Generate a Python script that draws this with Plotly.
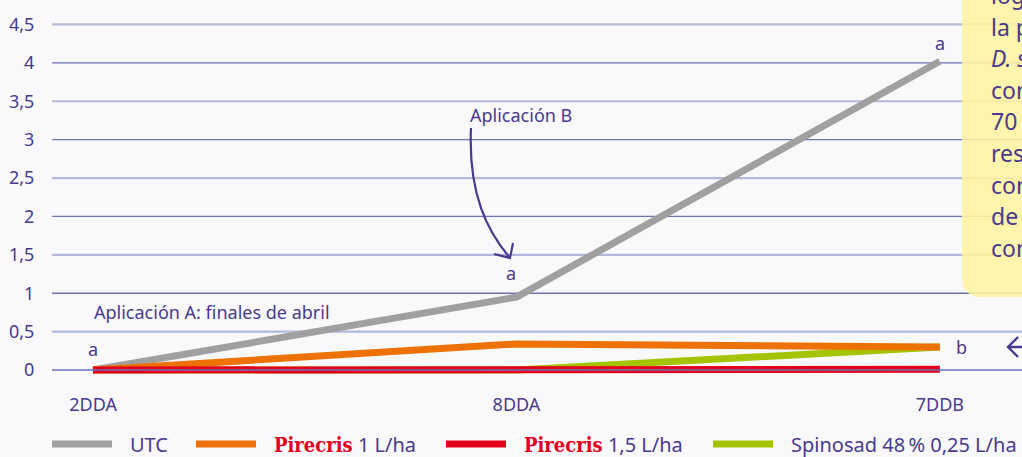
import plotly.graph_objects as go

# ---------------- data ----------------
categories = ["2DDA", "8DDA", "7DDB"]
utc = [0.0, 0.95, 4.02]
pirecris_1 = [0.0, 0.34, 0.30]
pirecris_15 = [0.0, 0.01, 0.01]
spinosad = [0.0, 0.0, 0.30]

y_ticks = [0, 0.5, 1, 1.5, 2, 2.5, 3, 3.5, 4, 4.5]

# ---------------- styles ----------------
W, H = 1022, 457
ML, MR, MT, MB = 52, 0, 16, 72
PURPLE = "#483a8c"
FONT = "Noto Sans"
GRAY, ORANGE, RED, GREEN = "#a0a0a0", "#ee7203", "#e3001b", "#a5c400"

def px(x):
    return (x - ML) / (W - ML - MR)

def py(y):
    return (H - MB - y) / (H - MT - MB)

brand = ("<span style='font-family:\"DejaVu Serif Condensed\", \"DejaVu Serif\";color:%s'>"
         "<b>Pirecris</b></span>") % RED

series = [
    # (name, values, colour, legend label)
    ("Spinosad 48 % 0,25 L/ha", spinosad, GREEN, "Spinosad 48\u202f% 0,25 L/ha"),
    ("UTC", utc, GRAY, "UTC"),
    ("Pirecris 1 L/ha", pirecris_1, ORANGE, brand + " 1 L/ha"),
    ("Pirecris 1,5 L/ha", pirecris_15, RED, brand + " 1,5 L/ha"),
]

fig = go.Figure()
for name, vals, col, _ in series:   # green under others, red on top
    fig.add_trace(go.Scatter(x=categories, y=vals, mode="lines", name=name,
                             line=dict(color=col, width=7), showlegend=False))

shapes = []
for v in y_ticks:
    integer = float(v).is_integer()
    shapes.append(dict(type="line", xref="paper", yref="y", x0=0, x1=1, y0=v, y1=v,
                       line=dict(color="#6d73b9" if integer else "#b4b8da", width=1.3 if integer else 2.2),
                       layer="above" if v == 0 else "below"))

# yellow note box (rounded bottom-left corner)
bx0, bx1, by0, by1, r = px(962), px(1030), py(297), py(-20), 20
rx = r / (W - ML - MR)
ry = r / (H - MT - MB)
shapes.append(dict(type="path", xref="paper", yref="paper",
                   path=(f"M{bx0},{by1} L{bx0},{by0 + ry} Q{bx0},{by0} {bx0 + rx},{by0} "
                         f"L{bx1},{by0} L{bx1},{by1} Z"),
                   fillcolor="rgba(255,243,160,0.88)", line=dict(width=0), layer="above"))

# curved arrow for "Aplicación B"
shapes.append(dict(type="path", xref="paper", yref="paper",
                   path=(f"M{px(471)},{py(128)} C{px(468)},{py(195)} {px(488)},{py(232)} {px(510)},{py(258)}"),
                   line=dict(color=PURPLE, width=2.2)))
shapes.append(dict(type="path", xref="paper", yref="paper",
                   path=(f"M{px(513)},{py(243)} L{px(510)},{py(258)} L{px(494)},{py(254)}"),
                   line=dict(color=PURPLE, width=2.2)))

# left-pointing arrow at right edge
shapes.append(dict(type="path", xref="paper", yref="paper",
                   path=(f"M{px(1018)},{py(337)} L{px(1008)},{py(347)} L{px(1018)},{py(357)} "
                         f"M{px(1008)},{py(347)} L{px(1030)},{py(347)}"),
                   line=dict(color=PURPLE, width=2.4)))

annotations = []
def note(x, y, text, size=18, xanchor="center", xref="paper", yref="paper", xshift=0, yshift=0):
    annotations.append(dict(x=x, y=y, xref=xref, yref=yref, text=text, showarrow=False,
                            xanchor=xanchor, yanchor="middle", xshift=xshift, yshift=yshift,
                            font=dict(family=FONT, size=size, color=PURPLE)))

# manual legend (swatch + label)
legend_order = [1, 2, 3, 0]
swatch_x = [52, 196, 446, 713]
for pos, idx in zip(swatch_x, legend_order):
    _, _, col, label = series[idx]
    shapes.append(dict(type="line", xref="paper", yref="paper",
                       x0=px(pos), x1=px(pos + 60), y0=py(444), y1=py(444),
                       line=dict(color=col, width=7)))
    note(px(pos + 76), py(444), label, size=20, xanchor="left")

# significance letters
note(categories[0], utc[0], "a", xref="x", yref="y", yshift=21)
note(categories[1], utc[1], "a", xref="x", yref="y", yshift=24, xshift=-5)
note(categories[2], utc[2], "a", xref="x", yref="y", yshift=18)
note(categories[2], pirecris_1[2], "b", xref="x", yref="y", xshift=22)

note(px(92), py(312), "Aplicación A: finales de abril", xanchor="left")
note(px(521), py(115), "Aplicación B")

box_lines = ["logró reducir", "la población de", "<i>D. suzukii</i>", "con una eficacia", "70 % respecto",
             "respecto", "con el testigo", "de", "con"]
for i, t in enumerate(box_lines):
    note(px(989), py(-5 + 31.6 * i), t, size=23, xanchor="left")

fig.update_layout(
    width=W, height=H,
    margin=dict(l=ML, r=MR, t=MT, b=MB),
    paper_bgcolor="#f9f9fc", plot_bgcolor="#f9f9fc",
    separators=",.",
    font=dict(family=FONT, color=PURPLE, size=18),
    shapes=shapes, annotations=annotations,
    showlegend=False,
    xaxis=dict(range=[-0.097, 2.194], showgrid=False, zeroline=False, showline=False,
               ticks="outside", ticklen=3, tickcolor="rgba(0,0,0,0)",
               tickfont=dict(size=18, color=PURPLE)),
    yaxis=dict(range=[-0.195, 4.61], tickvals=y_ticks, showgrid=False, zeroline=False,
               showline=False, ticks="outside", ticklen=13, tickcolor="rgba(0,0,0,0)",
               tickfont=dict(size=18, color=PURPLE)),
)

fig.write_html("out.html", config={"displayModeBar": False},
               post_script="document.body.style.margin='0';")
